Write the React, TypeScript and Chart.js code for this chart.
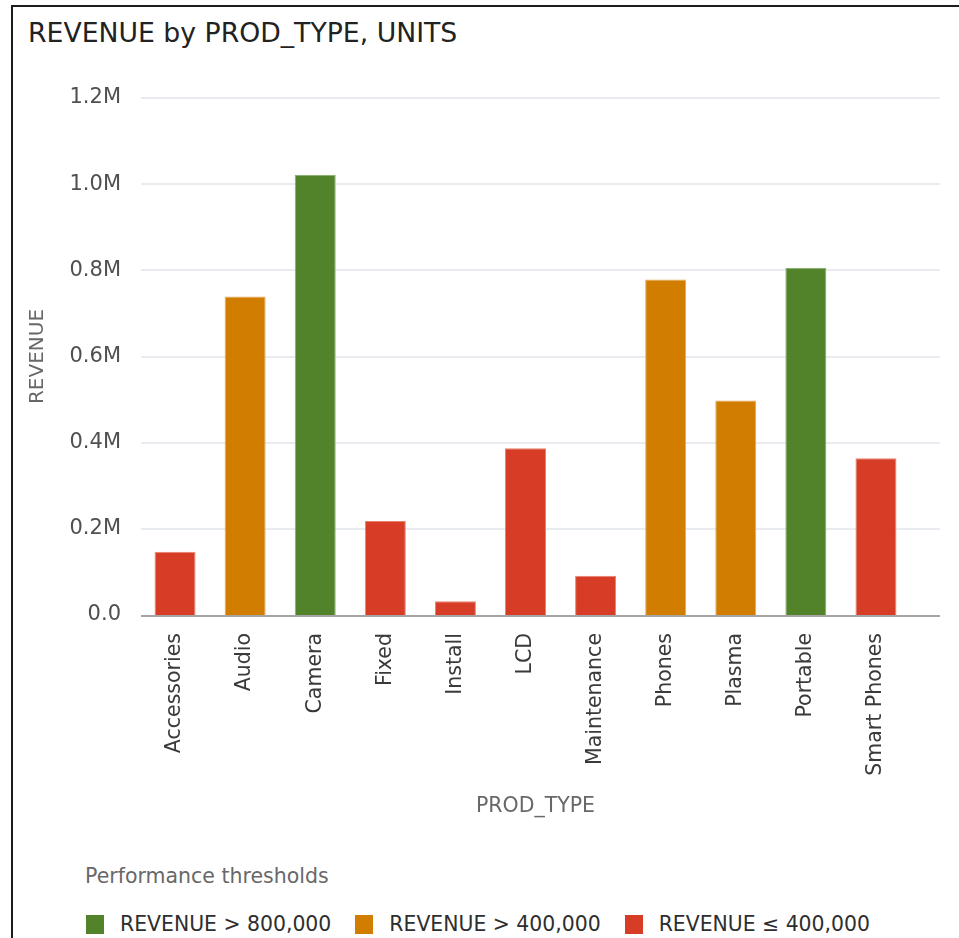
import React, { useEffect, useRef } from "react";
import { Chart, registerables } from "chart.js";

Chart.register(...registerables);

const chartTitle = "REVENUE by PROD_TYPE, UNITS";
const xAxisTitle = "PROD_TYPE";
const yAxisTitle = "REVENUE";
const categories = [
  "Accessories",
  "Audio",
  "Camera",
  "Fixed",
  "Install",
  "LCD",
  "Maintenance",
  "Phones",
  "Plasma",
  "Portable",
  "Smart Phones",
];
const revenue = [147000, 739000, 1022000, 218000, 32000, 387000, 91000, 779000, 498000, 806000, 364000];
const yMax = 1200000;
const yStep = 200000;

const legendTitle = "Performance thresholds";
const thresholdLabels = ["REVENUE > 800,000", "REVENUE > 400,000", "REVENUE ≤ 400,000"];
const thresholdLimits = [800000, 400000];
const thresholdColors = ["#52822A", "#D07D00", "#D73C26"];
const thresholdEdges = ["#8AAB72", "#E4A954", "#E9826F"];

const FONT = "'DejaVu Sans', sans-serif";

function bandOf(v: number): number {
  if (v > thresholdLimits[0]) return 0;
  if (v > thresholdLimits[1]) return 1;
  return 2;
}

const gridPlugin = {
  id: "extGrid",
  beforeDatasetsDraw(chart: any) {
    const { ctx, chartArea, scales } = chart;
    const y = scales.y;
    ctx.save();
    ctx.strokeStyle = "#e8ecf1";
    ctx.lineWidth = 2;
    y.ticks.forEach((t: any) => {
      if (t.value === 0) return;
      const py = Math.round(y.getPixelForValue(t.value));
      ctx.beginPath();
      ctx.moveTo(chartArea.left + 1, py);
      ctx.lineTo(chartArea.right + 29, py);
      ctx.stroke();
    });
    ctx.restore();
  },
  afterDatasetsDraw(chart: any) {
    const { ctx, chartArea, scales } = chart;
    const y0 = Math.round(scales.y.getPixelForValue(0));
    ctx.save();
    ctx.strokeStyle = "#a5a5a5";
    ctx.lineWidth = 2;
    ctx.beginPath();
    ctx.moveTo(chartArea.left + 1, y0 + 1);
    ctx.lineTo(chartArea.right + 29, y0 + 1);
    ctx.stroke();
    ctx.restore();
  },
  afterDraw(chart: any) {
    const { ctx, chartArea, scales } = chart;
    const x = scales.x;
    ctx.save();
    ctx.fillStyle = "#686868";
    ctx.font = "20.5px " + FONT;
    ctx.textAlign = "center";
    ctx.textBaseline = "middle";
    ctx.fillText(xAxisTitle, (chartArea.left + chartArea.right) / 2 + 10, x.bottom - 12.3);
    ctx.restore();
  },
};

export default function App() {
  const canvasRef = useRef<HTMLCanvasElement | null>(null);

  useEffect(() => {
    if (!canvasRef.current) return;
    const bands = revenue.map(bandOf);
    const chart = new Chart(canvasRef.current, {
      type: "bar",
      data: {
        labels: categories,
        datasets: [
          {
            label: yAxisTitle,
            data: revenue,
            backgroundColor: bands.map((b) => thresholdColors[b]),
            borderColor: bands.map((b) => thresholdEdges[b]),
            borderWidth: 1,
            borderSkipped: "bottom",
            barPercentage: 0.585,
            categoryPercentage: 1,
          },
        ],
      },
      options: {
        animation: false,
        responsive: false,
        devicePixelRatio: 1,
        layout: { padding: { left: 14, top: 38, right: 48, bottom: 0 } },
        plugins: {
          legend: { display: false },
          tooltip: { enabled: false },
          title: { display: false },
        },
        scales: {
          x: {
            grid: { display: false, drawTicks: false },
            border: { display: false },
            ticks: {
              autoSkip: false,
              minRotation: 90,
              maxRotation: 90,
              padding: 18,
              color: "#3a3a3a",
              font: { family: FONT, size: 20.5 },
            },
            title: { display: false },
            afterFit(scale: any) {
              scale.height = 204;
            },
          },
          y: {
            min: 0,
            max: yMax,
            grid: { display: false, drawTicks: false },
            border: { display: false },
            ticks: {
              stepSize: yStep,
              padding: 19,
              color: "#505050",
              font: { family: FONT, size: 21 },
              callback: (v: any) => (Number(v) === 0 ? "0.0" : (Number(v) / 1e6).toFixed(1) + "M"),
            },
            title: {
              display: true,
              text: yAxisTitle,
              color: "#686868",
              font: { family: FONT, size: 20 },
              padding: { top: 0, bottom: 0 },
            },
            afterFit(scale: any) {
              scale.width = 114;
            },
          },
        },
      },
      plugins: [gridPlugin],
    } as any);
    return () => chart.destroy();
  }, []);

  return (
    <div style={{ fontFamily: FONT }}>
      <div
        style={{
          position: "absolute",
          left: 11,
          top: 5,
          width: 948,
          height: 933,
          boxSizing: "border-box",
          borderLeft: "2px solid #1c1c1c",
          borderTop: "2px solid #1c1c1c",
          background: "#ffffff",
        }}
      />
      <div
        style={{
          position: "absolute",
          left: 28,
          top: 17,
          fontSize: 26.7,
          lineHeight: "32px",
          color: "#222222",
          whiteSpace: "nowrap",
        }}
      >
        {chartTitle}
      </div>
      <canvas
        ref={canvasRef}
        width={947}
        height={759}
        style={{ position: "absolute", left: 12, top: 60, width: 947, height: 759 }}
      />
      <div
        style={{
          position: "absolute",
          left: 85,
          top: 864,
          fontSize: 20.5,
          lineHeight: "24px",
          color: "#686868",
          whiteSpace: "nowrap",
        }}
      >
        {legendTitle}
      </div>
      <div
        style={{
          position: "absolute",
          left: 86,
          top: 912,
          display: "flex",
          alignItems: "center",
          whiteSpace: "nowrap",
        }}
      >
        {thresholdLabels.map((lab, i) => (
          <div key={lab} style={{ display: "flex", alignItems: "center", marginRight: 24 }}>
            <span
              style={{
                display: "inline-block",
                width: 18,
                height: 19,
                background: thresholdColors[i],
                marginRight: 16,
              }}
            />
            <span style={{ fontSize: 20.4, lineHeight: "24px", color: "#2e2e2e" }}>{lab}</span>
          </div>
        ))}
      </div>
    </div>
  );
}
